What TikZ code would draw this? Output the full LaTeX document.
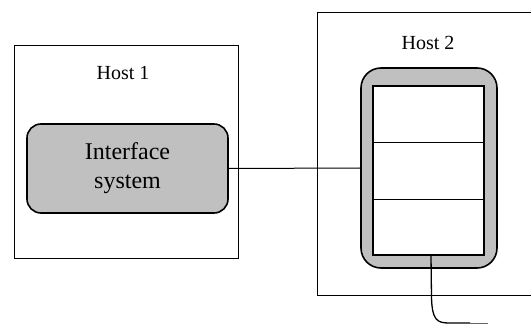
\documentclass[tikz,border=0pt]{standalone}
\usepackage{fontspec}
\setmainfont{Liberation Serif}
\begin{document}
\begin{tikzpicture}[x=1pt,y=-1pt,
  hostbox/.style={draw, line width=0.9pt, inner sep=0pt},
  softbox/.style={draw, line width=1.6pt, rounded corners=14pt, fill=boxgray, inner sep=0pt},
  hostlabel/.style={font=\fontsize{20}{24}\selectfont},
  wire/.style={line width=1pt}]
\definecolor{boxgray}{HTML}{C0C0C0}
\useasboundingbox (0,0) rectangle (531,326);
\clip (0,0) rectangle (531,326);

% Host 1 with its interface system
\node[hostbox, minimum width=224pt, minimum height=213pt] (host1) at (126,151.5) {};
\node[hostlabel] (h1label) at (123,73) {Host 1};
\node[softbox, minimum width=201pt, minimum height=89pt, align=center,
      font=\fontsize{24}{29}\selectfont] (iface) at (127.5,168.5) {Interface\\system};

% Host 2 with the layered stack
\node[hostbox, minimum width=220pt, minimum height=283pt] (host2) at (427,153.5) {};
\node[hostlabel] (h2label) at (428,43) {Host 2};
\node[softbox, rounded corners=20pt, minimum width=136pt, minimum height=200pt] (stack) at (429,168) {};
\node[draw, line width=1.2pt, fill=white, inner sep=0pt, minimum width=111pt, minimum height=169pt] (inner) at (428.5,170.5) {};
\draw[wire] (inner.west |- 0,143) -- (inner.east |- 0,143);
\draw[wire] (inner.west |- 0,200) -- (inner.east |- 0,200);

% link between the hosts
\draw[wire] (iface.east) -- (stack.west);

% cable leaving the stack
\coordinate (cableend) at (488,323);
\draw[line width=1.3pt] ([xshift=2.5pt]inner.south) -- (431.5,297)
  .. controls (432,320) and (437,323) .. (449,323) -- (470,323);
\draw[line width=0.8pt, black!60] (470,323) -- (cableend);
\end{tikzpicture}
\end{document}
